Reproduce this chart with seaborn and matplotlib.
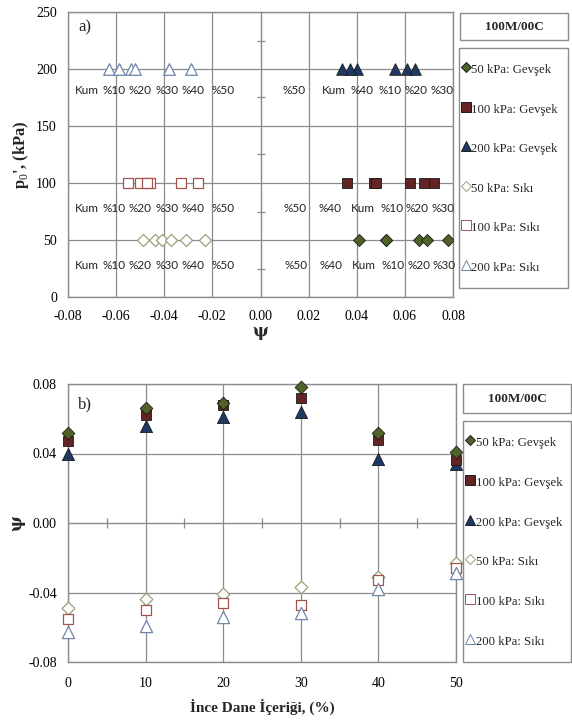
import numpy as np
import pandas as pd
import matplotlib
matplotlib.use("Agg")
import matplotlib.pyplot as plt
from matplotlib.lines import Line2D
from matplotlib.patches import Rectangle
from matplotlib.ticker import MultipleLocator, FixedLocator
import seaborn as sns

# ---- data -------------------------------------------------------------
fines = [0, 10, 20, 30, 40, 50]                     # fines content (%)
fine_labels = ["Kum", "%10", "%20", "%30", "%40", "%50"]
pressures = [50, 100, 200]                          # p0' (kPa)

# state parameter psi, loose (Gevşek) specimens
loose_50 = [0.052, 0.066, 0.069, 0.078, 0.052, 0.041]
loose_100 = [0.047, 0.062, 0.068, 0.072, 0.048, 0.036]
loose_200 = [0.040, 0.056, 0.061, 0.064, 0.037, 0.034]
# state parameter psi, dense (Sıkı) specimens
dense_50 = [-0.049, -0.044, -0.041, -0.037, -0.031, -0.023]
dense_100 = [-0.055, -0.050, -0.046, -0.047, -0.033, -0.026]
dense_200 = [-0.063, -0.059, -0.054, -0.052, -0.038, -0.029]

series_names = ["50 kPa: Gevşek", "100 kPa: Gevşek", "200 kPa: Gevşek",
                "50 kPa: Sıkı", "100 kPa: Sıkı", "200 kPa: Sıkı"]
series_psi = [loose_50, loose_100, loose_200, dense_50, dense_100, dense_200]
series_p = [50, 100, 200, 50, 100, 200]

legend_title = "100M/00C"

# ---- styling ----------------------------------------------------------
sns.set_style("white")
plt.rcParams["font.family"] = ["Liberation Serif", "DejaVu Serif"]
plt.rcParams["mathtext.fontset"] = "custom"
plt.rcParams["mathtext.rm"] = "Liberation Serif"
plt.rcParams["mathtext.bf"] = "Liberation Serif:bold"

GRID = "#8c8c8c"
styles = [
    dict(marker="D", facecolor="#4F6228", edgecolor="#1a1a1a", s=38, lw=0.6),
    dict(marker="s", facecolor="#632523", edgecolor="#1a1a1a", s=42, lw=0.6),
    dict(marker="^", facecolor="#1F3864", edgecolor="#1a1a1a", s=70, lw=0.6),
    dict(marker="D", facecolor="white", edgecolor="#98A27A", s=38, lw=0.9),
    dict(marker="s", facecolor="white", edgecolor="#A4524E", s=42, lw=0.9),
    dict(marker="^", facecolor="white", edgecolor="#6F86AA", s=70, lw=0.9),
]

W, H = 572, 723
fig = plt.figure(figsize=(W / 100, H / 100), dpi=100)


def px_axes(x0, y0, x1, y1):
    return fig.add_axes([x0 / W, 1 - y1 / H, (x1 - x0) / W, (y1 - y0) / H])


def style_axes(ax):
    for sp in ax.spines.values():
        sp.set_color(GRID)
        sp.set_linewidth(1.0)
    ax.grid(True, color=GRID, linewidth=0.9)
    ax.set_axisbelow(True)
    ax.tick_params(which="major", length=0, labelsize=10, colors="black")
    ax.tick_params(which="minor", direction="in", length=4, color=GRID, width=0.9)


# ---- panel a: p0' vs psi ----------------------------------------------
ax1 = px_axes(68, 12, 453, 297)
frames = []
for name, psi, p in zip(series_names, series_psi, series_p):
    frames.append(pd.DataFrame({"psi": psi, "p": [p] * len(psi), "series": name}))
df_a = pd.concat(frames, ignore_index=True)
for name, st in zip(series_names, styles):
    sub = df_a[df_a["series"] == name]
    sns.scatterplot(data=sub, x="psi", y="p", ax=ax1, marker=st["marker"], s=st["s"],
                    color=st["facecolor"], edgecolor=st["edgecolor"], linewidth=st["lw"],
                    legend=False, zorder=3)
ax1.set_xlim(-0.08, 0.08)
ax1.set_ylim(0, 250)
ax1.xaxis.set_major_locator(MultipleLocator(0.02))
ax1.xaxis.set_minor_locator(FixedLocator([-0.07, -0.05, -0.03, -0.01, 0.01, 0.03, 0.05, 0.07]))
ax1.yaxis.set_major_locator(MultipleLocator(50))
ax1.xaxis.set_major_formatter(plt.FuncFormatter(lambda v, _: f"{v:.2f}"))
style_axes(ax1)
ax1.tick_params(axis="x", pad=9)
ax1.tick_params(axis="y", pad=8)
# y-axis through psi = 0 with crossing minor ticks
sec = ax1.secondary_yaxis(0.5)
sec.spines["left"].set_color(GRID)
sec.yaxis.set_major_locator(FixedLocator([]))
sec.yaxis.set_minor_locator(FixedLocator([25, 75, 125, 175, 225]))
sec.tick_params(which="minor", direction="inout", length=6, color=GRID, width=0.9, labelleft=False)
sec.tick_params(which="major", length=0, labelleft=False)

ax1.set_xlabel("ψ", fontsize=12, fontweight="bold", family=["DejaVu Serif"], labelpad=0)
ax1.set_ylabel("p$_0$', (kPa)", fontsize=12, fontweight="bold", labelpad=4)
ax1.text(0.026, 0.947, "a)", transform=ax1.transAxes, fontsize=12, va="center", ha="left")

# fines-content tags beside each pressure row
tag_font = dict(fontsize=8.5, family=["Lato", "DejaVu Sans"], color="#222222", ha="center", va="center")
left_tag_x = [-0.072, -0.061, -0.050, -0.039, -0.028, -0.0155]
right_tag_x = {200: [0.0305, 0.054, 0.0646, 0.0754, 0.042, 0.0138],
               100: [0.0425, 0.0547, 0.065, 0.0757, 0.0287, 0.0145],
               50: [0.0428, 0.0551, 0.0657, 0.0764, 0.0292, 0.0149]}
tag_y = {200: 181, 100: 78, 50: 28}
for p in pressures:
    for lab, xl, xr in zip(fine_labels, left_tag_x, right_tag_x[p]):
        ax1.text(xl, tag_y[p], lab, **tag_font)
        ax1.text(xr, tag_y[p], lab, **tag_font)

# ---- panel b: psi vs fines --------------------------------------------
ax2 = px_axes(68, 384, 456, 662)
frames = []
for name, psi in zip(series_names, series_psi):
    frames.append(pd.DataFrame({"fines": fines, "psi": psi, "series": name}))
df_b = pd.concat(frames, ignore_index=True)
order_b = [3, 4, 5, 2, 1, 0]
for i in order_b:
    name, st = series_names[i], styles[i]
    sub = df_b[df_b["series"] == name]
    sns.scatterplot(data=sub, x="fines", y="psi", ax=ax2, marker=st["marker"], s=st["s"] * 1.1,
                    color=st["facecolor"], edgecolor=st["edgecolor"], linewidth=st["lw"],
                    legend=False, zorder=3, clip_on=False)
ax2.set_xlim(0, 50)
ax2.set_ylim(-0.08, 0.08)
ax2.xaxis.set_major_locator(MultipleLocator(10))
ax2.yaxis.set_major_locator(MultipleLocator(0.04))
ax2.yaxis.set_minor_locator(FixedLocator([-0.06, -0.02, 0.02, 0.06]))
ax2.yaxis.set_major_formatter(plt.FuncFormatter(lambda v, _: f"{v:.2f}"))
style_axes(ax2)
ax2.tick_params(axis="x", pad=11)
ax2.tick_params(axis="y", pad=8)
secx = ax2.secondary_xaxis(0.5)
secx.spines["bottom"].set_color(GRID)
secx.xaxis.set_major_locator(FixedLocator([]))
secx.xaxis.set_minor_locator(FixedLocator([5, 15, 25, 35, 45]))
secx.tick_params(which="minor", direction="inout", length=7, color=GRID, width=0.9, labelbottom=False)
secx.tick_params(which="major", length=0, labelbottom=False)
ax2.set_xlabel("İnce Dane İçeriği, (%)", fontsize=11, fontweight="bold", labelpad=6)
ax2.set_ylabel("ψ", fontsize=12, fontweight="bold", family=["DejaVu Serif"], labelpad=2)
ax2.text(0.026, 0.928, "b)", transform=ax2.transAxes, fontsize=12, va="center", ha="left")


# ---- boxed legends ----------------------------------------------------
def boxed_legend(title_box, body_box, marker_x, text_x):
    tx0, ty0, tx1, ty1 = title_box
    fig.add_artist(Rectangle((tx0 / W, 1 - ty1 / H), (tx1 - tx0) / W, (ty1 - ty0) / H,
                             transform=fig.transFigure, fill=False, edgecolor=GRID, lw=1.0))
    fig.text((tx0 + tx1) / 2 / W, 1 - (ty0 + ty1) / 2 / H, legend_title, ha="center",
             va="center", fontsize=9.5, fontweight="bold")
    bx0, by0, bx1, by1 = body_box
    fig.add_artist(Rectangle((bx0 / W, 1 - by1 / H), (bx1 - bx0) / W, (by1 - by0) / H,
                             transform=fig.transFigure, fill=False, edgecolor=GRID, lw=1.0))
    step = (by1 - by0 - 42) / 5
    for k, (name, st) in enumerate(zip(series_names, styles)):
        yy = by0 + 21 + k * step
        ms = {"D": 5, "s": 6.5, "^": 7}[st["marker"]]
        fig.add_artist(Line2D([marker_x / W], [1 - (yy - 2) / H], transform=fig.transFigure,
                              marker=st["marker"], markersize=ms, markerfacecolor=st["facecolor"],
                              markeredgecolor=st["edgecolor"], markeredgewidth=0.7, linestyle="none"))
        fig.text(text_x / W, 1 - (yy + 1) / H, name, ha="left", va="center", fontsize=9.2)


boxed_legend((460, 13, 568, 40), (459, 48, 568, 288), 466, 471)
boxed_legend((463, 384, 571, 413), (463, 421, 571, 662), 470, 476)

fig.savefig("out.png", dpi=100)
